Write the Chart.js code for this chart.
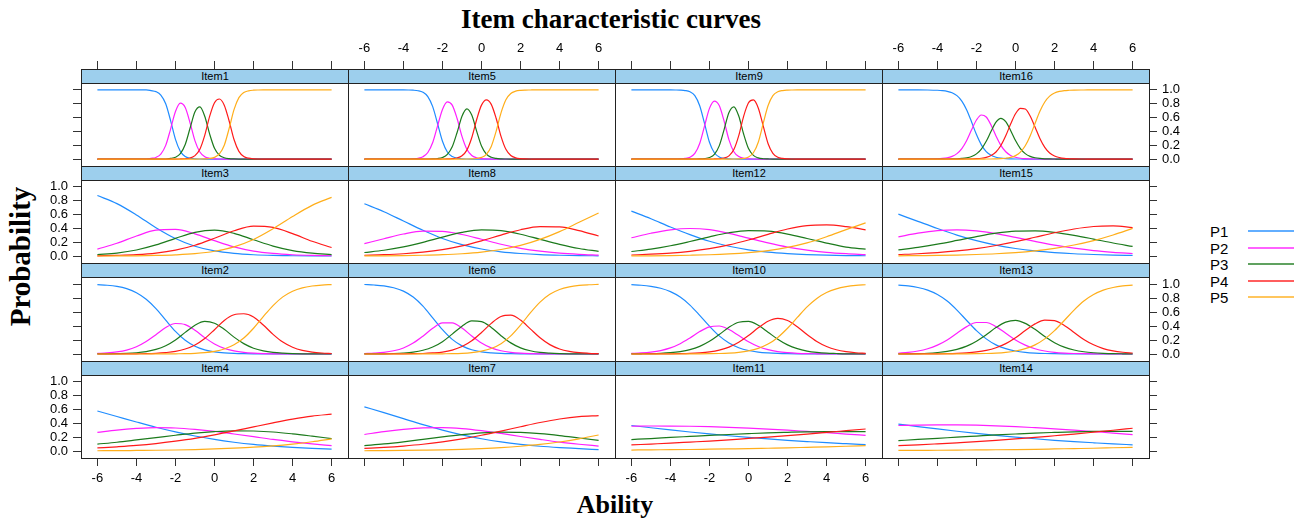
<!DOCTYPE html>
<html>
<head>
<meta charset="utf-8">
<title>Item characteristic curves</title>
<script src="https://cdn.jsdelivr.net/npm/chart.js@4.4.1/dist/chart.umd.min.js"></script>
<style>
  html, body { margin: 0; padding: 0; background: #fff; }
  body { width: 1303px; height: 524px; position: relative; overflow: hidden;
         font-family: "Liberation Sans", Arial, sans-serif; color: #000; }
  canvas { position: absolute; }
  .strip { position: absolute; box-sizing: border-box; height: 15px; background: #9dcfed;
           border: 1px solid #222; font-size: 11px; line-height: 13px; text-align: center; }
  .lab { position: absolute; font-family: "Liberation Serif", "Times New Roman", serif;
         font-weight: bold; white-space: nowrap; text-align: center; }
  .key { position: absolute; font-size: 15px; line-height: 16px; }
  .swatch { position: absolute; height: 2px; width: 46px; opacity: 0.7; }
</style>
</head>
<body>
<div class="lab" style="left:311px; top:4px; width:600px; font-size:27px;">Item characteristic curves</div>
<div class="lab" style="left:465px; top:490px; width:300px; font-size:26px;">Ability</div>
<div class="lab" style="left:-130px; top:240px; width:300px; font-size:29px; transform:rotate(-90deg);">Probability</div>
<div id="legend"></div>
<script>
// ability grids (x values the curves were read at)
const abilityFine = [-6, -5, -4.5, -4, -3.75, -3.5, -3.25, -3, -2.75, -2.5, -2.25, -2, -1.75, -1.5, -1.25, -1,
  -0.75, -0.5, -0.25, 0, 0.25, 0.5, 0.75, 1, 1.25, 1.5, 1.75, 2, 2.25, 2.5, 2.75, 3, 3.5, 4, 5, 6];
const abilityMid = [-6, -5.5, -5, -4.5, -4, -3.5, -3, -2.5, -2, -1.5, -1, -0.5, 0, 0.5, 1, 1.5, 2, 2.5, 3, 3.5, 4, 4.5, 5, 5.5, 6];
const abilityCoarse = [-6, -5, -4, -3, -2, -1, 0, 1, 2, 3, 4, 5, 6];

const categories = ["P1", "P2", "P3", "P4", "P5"];
const abilityTicks = [-6, -4, -2, 0, 2, 4, 6];
const probTicks = [0, 0.2, 0.4, 0.6, 0.8, 1.0];

// row 1 (steep items), read on abilityFine
const item1 = [
  [1,1,1,1,1,1,0.99,0.975,0.926,0.8,0.557,0.285,0.112,0.038,0.013,0.004,0.001,0,0,0,0,0,0,0,0,0,0,0,0,0,0,0,0,0,0,0],
  [0,0,0,0,0,0,0.01,0.024,0.073,0.198,0.434,0.688,0.808,0.746,0.522,0.263,0.102,0.035,0.011,0.004,0.001,0,0,0,0,0,0,0,0,0,0,0,0,0,0,0],
  [0,0,0,0,0,0,0,0,0,0,0.009,0.027,0.078,0.211,0.449,0.683,0.754,0.62,0.364,0.156,0.056,0.019,0.006,0.002,0,0,0,0,0,0,0,0,0,0,0,0],
  [0,0,0,0,0,0,0,0,0,0,0,0,0.002,0.005,0.016,0.05,0.142,0.342,0.617,0.815,0.869,0.78,0.551,0.283,0.112,0.038,0.013,0.004,0.001,0,0,0,0,0,0,0],
  [0,0,0,0,0,0,0,0,0,0,0,0,0,0,0,0,0.001,0.003,0.008,0.025,0.074,0.2,0.443,0.715,0.888,0.962,0.987,0.996,0.999,1,1,1,1,1,1,1]
];
const item5 = [
  [1,1,1,1,0.999,0.996,0.988,0.966,0.904,0.758,0.511,0.258,0.103,0.037,0.013,0.004,0.001,0,0,0,0,0,0,0,0,0,0,0,0,0,0,0,0,0,0,0],
  [0,0,0,0,0,0.004,0.012,0.034,0.095,0.239,0.481,0.718,0.828,0.78,0.586,0.328,0.141,0.052,0.018,0.006,0.002,0,0,0,0,0,0,0,0,0,0,0,0,0,0,0],
  [0,0,0,0,0,0,0,0,0.001,0.003,0.008,0.023,0.067,0.177,0.385,0.62,0.727,0.636,0.405,0.19,0.073,0.026,0.009,0.003,0.001,0,0,0,0,0,0,0,0,0,0,0],
  [0,0,0,0,0,0,0,0,0,0,0,0.001,0.002,0.006,0.016,0.048,0.13,0.309,0.569,0.78,0.856,0.791,0.59,0.329,0.141,0.052,0.018,0.006,0.002,0.001,0,0,0,0,0,0],
  [0,0,0,0,0,0,0,0,0,0,0,0,0,0,0,0,0.001,0.003,0.008,0.024,0.069,0.183,0.401,0.668,0.858,0.948,0.982,0.994,0.998,0.999,1,1,1,1,1,1]
];
const item9 = [
  [1,1,1,1,0.999,0.997,0.991,0.973,0.917,0.772,0.512,0.244,0.091,0.03,0.01,0.003,0.001,0,0,0,0,0,0,0,0,0,0,0,0,0,0,0,0,0,0,0],
  [0,0,0,0,0,0.003,0.009,0.027,0.082,0.226,0.481,0.733,0.839,0.774,0.549,0.278,0.106,0.036,0.011,0.004,0.001,0,0,0,0,0,0,0,0,0,0,0,0,0,0,0],
  [0,0,0,0,0,0,0,0,0.001,0.002,0.007,0.023,0.068,0.191,0.427,0.672,0.755,0.623,0.362,0.152,0.053,0.017,0.005,0.002,0,0,0,0,0,0,0,0,0,0,0,0],
  [0,0,0,0,0,0,0,0,0,0,0,0,0.002,0.005,0.015,0.047,0.137,0.338,0.618,0.814,0.855,0.739,0.483,0.226,0.083,0.027,0.009,0.003,0.001,0,0,0,0,0,0,0],
  [0,0,0,0,0,0,0,0,0,0,0,0,0,0,0,0,0.001,0.003,0.009,0.03,0.091,0.244,0.512,0.772,0.917,0.973,0.991,0.997,0.999,1,1,1,1,1,1,1]
];
const item16 = [
  [1,1,0.999,0.995,0.99,0.98,0.959,0.917,0.839,0.711,0.537,0.354,0.206,0.109,0.055,0.027,0.013,0.006,0.003,0.001,0.001,0,0,0,0,0,0,0,0,0,0,0,0,0,0,0],
  [0,0,0.001,0.004,0.009,0.019,0.039,0.079,0.152,0.27,0.423,0.565,0.637,0.608,0.49,0.334,0.198,0.106,0.053,0.026,0.012,0.006,0.003,0.001,0.001,0,0,0,0,0,0,0,0,0,0,0],
  [0,0,0,0,0,0.001,0.002,0.004,0.009,0.018,0.037,0.075,0.145,0.257,0.402,0.533,0.588,0.54,0.414,0.268,0.152,0.079,0.039,0.019,0.009,0.004,0.002,0.001,0,0,0,0,0,0,0,0],
  [0,0,0,0,0,0,0,0,0,0.001,0.003,0.006,0.012,0.025,0.052,0.103,0.196,0.336,0.506,0.655,0.734,0.723,0.624,0.465,0.298,0.169,0.088,0.044,0.022,0.01,0.005,0.002,0.001,0,0,0],
  [0,0,0,0,0,0,0,0,0,0,0,0,0,0.001,0.001,0.003,0.006,0.012,0.024,0.05,0.101,0.192,0.334,0.515,0.692,0.826,0.91,0.955,0.978,0.99,0.995,0.998,0.999,1,1,1]
];

// row 2 (flat items), read on abilityCoarse
const item3 = [
  [0.875,0.758,0.595,0.411,0.254,0.142,0.074,0.038,0.019,0.009,0.005,0.002,0.001],
  [0.1,0.185,0.29,0.375,0.387,0.322,0.223,0.133,0.072,0.038,0.019,0.009,0.005],
  [0.02,0.044,0.088,0.161,0.256,0.344,0.376,0.329,0.236,0.145,0.08,0.042,0.021],
  [0.004,0.011,0.022,0.044,0.086,0.157,0.257,0.366,0.433,0.414,0.325,0.214,0.124],
  [0.001,0.002,0.004,0.009,0.018,0.035,0.07,0.134,0.24,0.394,0.572,0.733,0.849]
];
const item8 = [
  [0.756,0.641,0.507,0.373,0.255,0.165,0.102,0.062,0.037,0.021,0.012,0.007,0.004],
  [0.179,0.251,0.319,0.36,0.358,0.312,0.243,0.171,0.112,0.071,0.043,0.026,0.015],
  [0.052,0.084,0.133,0.199,0.274,0.342,0.378,0.368,0.316,0.242,0.17,0.11,0.069],
  [0.012,0.02,0.034,0.057,0.093,0.147,0.22,0.304,0.381,0.425,0.421,0.369,0.29],
  [0.002,0.004,0.007,0.012,0.02,0.034,0.057,0.095,0.154,0.241,0.354,0.488,0.622]
];
const item12 = [
  [0.65,0.54,0.42,0.31,0.214,0.142,0.091,0.057,0.036,0.022,0.013,0.008,0.005],
  [0.265,0.33,0.38,0.399,0.382,0.329,0.26,0.19,0.13,0.086,0.055,0.035,0.021],
  [0.066,0.1,0.149,0.211,0.278,0.337,0.367,0.36,0.318,0.254,0.188,0.13,0.1],
  [0.016,0.027,0.043,0.069,0.107,0.161,0.232,0.314,0.391,0.44,0.45,0.425,0.38],
  [0.003,0.004,0.007,0.012,0.019,0.031,0.05,0.079,0.125,0.19,0.279,0.382,0.48]
];
const item15 = [
  [0.606,0.502,0.399,0.304,0.223,0.158,0.11,0.075,0.051,0.034,0.023,0.015,0.01],
  [0.278,0.331,0.368,0.38,0.364,0.324,0.27,0.212,0.158,0.114,0.079,0.055,0.037],
  [0.089,0.126,0.172,0.226,0.282,0.331,0.361,0.365,0.343,0.3,0.246,0.189,0.14],
  [0.023,0.034,0.051,0.075,0.108,0.153,0.208,0.272,0.337,0.392,0.428,0.436,0.412],
  [0.004,0.007,0.01,0.015,0.023,0.034,0.051,0.076,0.111,0.16,0.224,0.305,0.401]
];

// row 3 (medium items), read on abilityMid
const item2 = [
  [0.991,0.982,0.965,0.933,0.876,0.782,0.648,0.483,0.323,0.195,0.11,0.059,0.031,0.016,0.008,0.004,0.002,0.001,0.001,0,0,0,0,0,0],
  [0.008,0.016,0.03,0.056,0.103,0.178,0.276,0.378,0.436,0.42,0.34,0.234,0.144,0.081,0.044,0.023,0.012,0.006,0.003,0.002,0.001,0.001,0,0,0],
  [0.001,0.002,0.005,0.009,0.018,0.035,0.065,0.118,0.201,0.309,0.411,0.466,0.44,0.353,0.241,0.148,0.083,0.045,0.023,0.012,0.006,0.003,0.002,0.001,0.001],
  [0,0,0,0.001,0.003,0.005,0.01,0.02,0.037,0.071,0.129,0.222,0.347,0.479,0.56,0.575,0.53,0.414,0.281,0.17,0.096,0.051,0.027,0.014,0.007],
  [0,0,0,0,0,0,0.001,0.001,0.003,0.005,0.01,0.02,0.038,0.071,0.131,0.228,0.368,0.534,0.692,0.816,0.897,0.945,0.971,0.985,0.992]
];
const item6 = [
  [0.993,0.986,0.973,0.946,0.898,0.813,0.684,0.517,0.348,0.209,0.116,0.061,0.031,0.016,0.008,0.004,0.002,0.001,0.001,0,0,0,0,0,0],
  [0.006,0.012,0.023,0.046,0.086,0.156,0.255,0.368,0.445,0.446,0.37,0.258,0.158,0.087,0.046,0.024,0.012,0.006,0.003,0.002,0.001,0,0,0,0],
  [0.001,0.002,0.003,0.007,0.014,0.027,0.053,0.099,0.176,0.284,0.398,0.472,0.463,0.38,0.262,0.159,0.088,0.047,0.023,0.012,0.006,0.003,0.002,0.001,0.001],
  [0,0,0,0.001,0.002,0.004,0.007,0.015,0.028,0.056,0.106,0.188,0.307,0.438,0.536,0.554,0.485,0.359,0.232,0.134,0.072,0.038,0.019,0.01,0.004],
  [0,0,0,0,0,0,0.001,0.001,0.003,0.005,0.01,0.021,0.041,0.079,0.148,0.259,0.413,0.587,0.741,0.852,0.921,0.959,0.979,0.989,0.995]
];
const item10 = [
  [0.99,0.982,0.966,0.939,0.891,0.813,0.699,0.552,0.397,0.259,0.157,0.09,0.05,0.027,0.015,0.008,0.004,0.002,0.001,0.001,0,0,0,0,0],
  [0.008,0.015,0.027,0.049,0.087,0.147,0.229,0.32,0.387,0.4,0.349,0.264,0.176,0.108,0.062,0.034,0.019,0.01,0.005,0.003,0.002,0.001,0.001,0,0],
  [0.002,0.003,0.005,0.01,0.019,0.035,0.062,0.109,0.181,0.278,0.382,0.454,0.466,0.41,0.312,0.211,0.13,0.076,0.042,0.023,0.012,0.007,0.003,0.002,0.001],
  [0,0,0.001,0.002,0.003,0.005,0.009,0.017,0.031,0.056,0.099,0.168,0.263,0.374,0.469,0.51,0.479,0.39,0.278,0.179,0.107,0.061,0.034,0.018,0.01],
  [0,0,0,0,0,0,0.001,0.002,0.004,0.007,0.013,0.024,0.045,0.081,0.142,0.237,0.368,0.522,0.673,0.794,0.879,0.931,0.962,0.98,0.989]
];
const item13 = [
  [0.984,0.972,0.95,0.912,0.849,0.756,0.627,0.479,0.334,0.216,0.13,0.076,0.043,0.024,0.013,0.007,0.004,0.002,0.001,0.001,0,0,0,0,0],
  [0.013,0.024,0.043,0.075,0.127,0.201,0.297,0.391,0.45,0.45,0.391,0.297,0.201,0.127,0.075,0.043,0.024,0.013,0.007,0.004,0.002,0.001,0.001,0,0],
  [0.002,0.003,0.006,0.011,0.021,0.037,0.066,0.112,0.183,0.276,0.377,0.455,0.481,0.438,0.352,0.25,0.162,0.098,0.057,0.032,0.018,0.01,0.005,0.003,0.002],
  [0,0.001,0.001,0.002,0.003,0.005,0.009,0.016,0.029,0.051,0.089,0.148,0.232,0.335,0.43,0.484,0.476,0.408,0.308,0.207,0.131,0.077,0.044,0.025,0.014],
  [0,0,0,0,0,0.001,0.001,0.002,0.004,0.007,0.013,0.024,0.043,0.076,0.13,0.216,0.334,0.479,0.627,0.756,0.849,0.912,0.95,0.972,0.984]
];

// row 4 (flat items), read on abilityCoarse
const item4 = [
  [0.579,0.5,0.421,0.345,0.277,0.218,0.168,0.128,0.096,0.072,0.053,0.039,0.029],
  [0.27,0.304,0.327,0.339,0.334,0.314,0.285,0.247,0.208,0.168,0.134,0.104,0.079],
  [0.101,0.128,0.161,0.195,0.229,0.261,0.282,0.293,0.29,0.276,0.249,0.216,0.181],
  [0.045,0.062,0.082,0.109,0.144,0.185,0.235,0.291,0.35,0.408,0.462,0.506,0.534],
  [0.005,0.006,0.009,0.012,0.016,0.022,0.031,0.042,0.056,0.076,0.102,0.135,0.177]
];
const item7 = [
  [0.64,0.556,0.469,0.383,0.304,0.235,0.178,0.132,0.097,0.07,0.051,0.036,0.02],
  [0.24,0.282,0.315,0.336,0.339,0.325,0.295,0.255,0.211,0.169,0.13,0.099,0.073],
  [0.078,0.103,0.134,0.169,0.205,0.237,0.262,0.274,0.27,0.252,0.224,0.189,0.154],
  [0.038,0.053,0.073,0.099,0.134,0.177,0.229,0.289,0.352,0.413,0.464,0.499,0.514],
  [0.005,0.006,0.009,0.013,0.018,0.026,0.036,0.05,0.07,0.096,0.131,0.177,0.233]
];
const item11 = [
  [0.37,0.337,0.306,0.276,0.248,0.222,0.198,0.176,0.156,0.138,0.121,0.107,0.094],
  [0.359,0.363,0.362,0.359,0.353,0.344,0.332,0.318,0.302,0.284,0.266,0.246,0.227],
  [0.167,0.181,0.197,0.212,0.227,0.24,0.252,0.263,0.271,0.278,0.281,0.282,0.28],
  [0.089,0.102,0.115,0.13,0.145,0.163,0.183,0.202,0.224,0.246,0.271,0.295,0.319],
  [0.015,0.018,0.02,0.023,0.027,0.031,0.035,0.041,0.047,0.054,0.061,0.07,0.08]
];
const item14 = [
  [0.39,0.354,0.32,0.287,0.256,0.228,0.202,0.178,0.156,0.137,0.12,0.104,0.091],
  [0.37,0.376,0.379,0.378,0.374,0.365,0.353,0.338,0.322,0.302,0.281,0.261,0.239],
  [0.151,0.168,0.184,0.201,0.217,0.233,0.247,0.26,0.27,0.279,0.285,0.286,0.285],
  [0.08,0.091,0.105,0.12,0.136,0.155,0.176,0.198,0.222,0.246,0.273,0.301,0.33],
  [0.009,0.011,0.012,0.014,0.017,0.019,0.022,0.026,0.031,0.036,0.041,0.048,0.055]
];

// lattice layout, top row first
const panels = [
  [["Item1", item1], ["Item5", item5], ["Item9", item9], ["Item16", item16]],
  [["Item3", item3], ["Item8", item8], ["Item12", item12], ["Item15", item15]],
  [["Item2", item2], ["Item6", item6], ["Item10", item10], ["Item13", item13]],
  [["Item4", item4], ["Item7", item7], ["Item11", item11], ["Item14", item14]]
];
const rowAbility = [abilityFine, abilityCoarse, abilityMid, abilityCoarse];

const seriesColors = ["#1f8cff", "#ff1fff", "#1c7a1c", "#ff1a1a", "#ffae1a"];
const colLeft = [81, 348, 615, 882];
const rowTop = [69, 166, 263, 361];
const rowBottom = [166, 263, 361, 458];
const panelW = 267;
const stripH = 14;
const margin = 46;
const xLim = 6.84;
const tickFont = { family: "'Liberation Sans', Arial, sans-serif", size: 13 };

const makeAxis = (position, min, max, values, ticksOn, labelsOn, fmt) => ({
  type: "linear",
  position,
  min,
  max,
  afterBuildTicks: (scale) => { scale.ticks = values.map((v) => ({ value: v })); },
  afterFit: (scale) => {
    if (scale.isHorizontal()) scale.height = margin;
    else scale.width = margin;
  },
  grid: { display: true, drawOnChartArea: false, drawTicks: ticksOn, tickLength: 8, color: "#333", lineWidth: 1 },
  border: { display: true, color: "#222", width: 1 },
  ticks: { display: labelsOn, padding: 5, color: "#000", font: tickFont, maxRotation: 0, autoSkip: false, callback: fmt },
});

const drawPanel = (r, c) => {
  const [name, series] = panels[r][c];
  const xs = rowAbility[r];
  const left = colLeft[c];
  const top = rowTop[r];
  const h = rowBottom[r] - top;
  // chart area holds the strip too, so stretch the y range over it
  const yMax = 1.1 + (1.2 * stripH) / (h - stripH);

  const canvas = document.createElement("canvas");
  canvas.width = panelW + 2 * margin;
  canvas.height = h + 2 * margin;
  canvas.style.left = `${left - margin}px`;
  canvas.style.top = `${top - margin}px`;
  canvas.style.width = `${canvas.width}px`;
  canvas.style.height = `${canvas.height}px`;
  document.body.appendChild(canvas);

  const fmtX = (v) => String(v);
  const fmtY = (v) => Number(v).toFixed(1);

  new Chart(canvas.getContext("2d"), {
    type: "line",
    data: {
      datasets: series.map((vals, k) => ({
        label: categories[k],
        data: xs.map((x, i) => ({ x, y: vals[i] })),
        borderColor: seriesColors[k],
        borderWidth: 1.2,
        pointRadius: 0,
        cubicInterpolationMode: "monotone",
        fill: false,
        order: 4 - k,
      })),
    },
    options: {
      responsive: false,
      animation: false,
      devicePixelRatio: 1,
      events: [],
      layout: { padding: 0 },
      plugins: { legend: { display: false }, tooltip: { enabled: false } },
      scales: {
        x: makeAxis("bottom", -xLim, xLim, abilityTicks, r === 3, r === 3 && (c === 0 || c === 2), fmtX),
        x2: makeAxis("top", -xLim, xLim, abilityTicks, r === 0, r === 0 && (c === 1 || c === 3), fmtX),
        y: makeAxis("left", -0.1, yMax, probTicks, c === 0, c === 0 && (r === 1 || r === 3), fmtY),
        y2: makeAxis("right", -0.1, yMax, probTicks, c === 3, c === 3 && (r === 0 || r === 2), fmtY),
      },
    },
  });

  const strip = document.createElement("div");
  strip.className = "strip";
  strip.style.left = `${left}px`;
  strip.style.top = `${top}px`;
  strip.style.width = `${panelW + 1}px`;
  strip.textContent = name;
  document.body.appendChild(strip);
};

for (let r = 0; r < panels.length; r++) {
  for (let c = 0; c < panels[r].length; c++) drawPanel(r, c);
}

// key on the right
const legend = document.getElementById("legend");
categories.forEach((cat, k) => {
  const y = 232 + k * 16.5;
  const txt = document.createElement("div");
  txt.className = "key";
  txt.style.left = "1210px";
  txt.style.top = `${Math.round(y - 8)}px`;
  txt.textContent = cat;
  legend.appendChild(txt);
  const line = document.createElement("div");
  line.className = "swatch";
  line.style.left = "1248px";
  line.style.top = `${Math.round(y - 2)}px`;
  line.style.background = seriesColors[k];
  legend.appendChild(line);
});
</script>
</body>
</html>
